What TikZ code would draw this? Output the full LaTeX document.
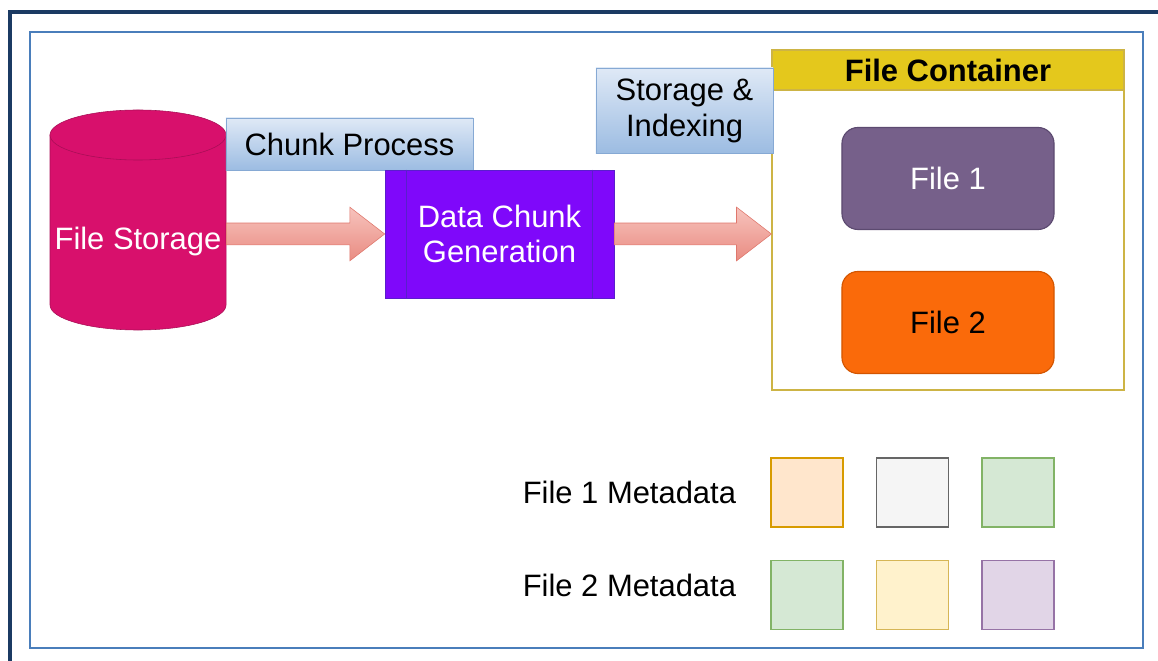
\documentclass[tikz,border=0pt]{standalone}
\usepackage{fontspec}
\setmainfont{Liberation Sans}
\usetikzlibrary{calc}

\definecolor{framedark}{HTML}{1B3A63}
\definecolor{frameblue}{HTML}{4A7EBB}
\definecolor{storagepink}{HTML}{D8106C}
\definecolor{storageedge}{HTML}{A80E56}
\definecolor{labeltop}{HTML}{DFE9F6}
\definecolor{labelbottom}{HTML}{9CBCE2}
\definecolor{labeledge}{HTML}{86A9D4}
\definecolor{processfill}{HTML}{7F08FA}
\definecolor{processedge}{HTML}{5A1ECC}
\definecolor{arrowtop}{HTML}{F7C3BD}
\definecolor{arrowbottom}{HTML}{E98C82}
\definecolor{arrowedge}{HTML}{DF776C}
\definecolor{headeryellow}{HTML}{E4C81C}
\definecolor{containeredge}{HTML}{CDB445}
\definecolor{fileonefill}{HTML}{76608A}
\definecolor{fileoneedge}{HTML}{5C4A70}
\definecolor{filetwofill}{HTML}{FA6A0A}
\definecolor{filetwoedge}{HTML}{D35500}

\begin{document}
\begin{tikzpicture}[x=0.025cm, y=-0.025cm, font=\fontsize{22}{25.5}\selectfont]
		% Define styles
		\tikzstyle{storage}=[fill=storagepink, draw=storageedge, thin]
		\tikzstyle{labelbox}=[draw=labeledge, top color=labeltop, bottom color=labelbottom, inner sep=0pt, align=center]
		\tikzstyle{process}=[draw=processedge, fill=processfill, text=white, align=center, inner sep=0pt, minimum width=5.725cm, minimum height=3.2cm]
		\tikzstyle{processline}=[draw=processedge, thick]
		\tikzstyle{fatarrow}=[draw=arrowedge, top color=arrowtop, bottom color=arrowbottom]
		\tikzstyle{filebox}=[rounded corners=0.4cm, minimum width=5.3cm, minimum height=2.55cm, thick]
		\tikzstyle{meta}=[minimum width=1.8cm, minimum height=1.725cm, line width=1.2pt]
		
		\useasboundingbox (0,0) rectangle (1158,661);
		\clip (0,0) rectangle (1158,661);
		
		% Frames
		\draw[framedark, line width=3pt] (10,12) rectangle (1200,700);
		\draw[frameblue, line width=1.5pt] (30,32) rectangle (1143,648);
		
		% File storage
		\filldraw[storage] (50,135) -- (50,305) arc[start angle=180, end angle=360, x radius=2.2cm, y radius=0.625cm] -- (226,135) -- cycle;
		\filldraw[storage] (138,135) ellipse [x radius=2.2cm, y radius=0.625cm];
		\node[text=white, minimum width=4.4cm, inner sep=0pt] (fs) at (138,242) {File Storage};
		
		% Chunk process
		\node[labelbox, minimum width=6.175cm, minimum height=1.3cm] (cp) at (349.5,144) {Chunk Process};
		\node[process] (dcg) at (499.5,234) {Data Chunk\\Generation};
		\draw[processline] ([xshift=0.55cm]dcg.north west) -- ([xshift=0.55cm]dcg.south west);
		\draw[processline] ([xshift=-0.55cm]dcg.north east) -- ([xshift=-0.55cm]dcg.south east);
		
		% File container
		\node[draw=containeredge, thick, minimum width=8.8cm, minimum height=8.5cm] (fc) at (948,220) {};
		\node[draw=containeredge, thick, fill=headeryellow, minimum width=8.8cm, minimum height=1cm, anchor=north, font=\fontsize{22}{25.5}\selectfont\bfseries] (fch) at (fc.north) {File Container};
		\node[filebox, fill=fileonefill, draw=fileoneedge, text=white] (f1) at (948,178.5) {File 1};
		\node[filebox, fill=filetwofill, draw=filetwoedge] (f2) at (948,322.5) {File 2};
		
		% Storage and indexing
		\node[labelbox, minimum width=4.425cm, minimum height=2.125cm] (si) at (684.5,110.5) {Storage \&\\Indexing};
		
		% Fat arrows
		\draw[fatarrow] let \p1=(fs.east |- dcg.west), \p2=(dcg.west) in
			(\x1,\y1+7.8pt) -- (\x2-24.8pt,\y1+7.8pt) -- (\x2-24.8pt,\y1+19.1pt) -- (\x2,\y1)
			-- (\x2-24.8pt,\y1-19.1pt) -- (\x2-24.8pt,\y1-7.8pt) -- (\x1,\y1-7.8pt) -- cycle;
		\draw[fatarrow] let \p1=(dcg.east), \p2=(fc.west |- dcg.east) in
			(\x1,\y1+7.8pt) -- (\x2-24.8pt,\y1+7.8pt) -- (\x2-24.8pt,\y1+19.1pt) -- (\x2,\y1)
			-- (\x2-24.8pt,\y1-19.1pt) -- (\x2-24.8pt,\y1-7.8pt) -- (\x1,\y1-7.8pt) -- cycle;
		
		% Metadata
		\node[anchor=east] (m1) at (741,492) {File 1 Metadata};
		\node[anchor=east] (m2) at (741,585) {File 2 Metadata};
		\node[meta, fill={rgb,255:red,255;green,230;blue,204}, draw={rgb,255:red,215;green,155;blue,0}] (m1a) at (807,492.5) {};
		\node[meta, fill={rgb,255:red,245;green,245;blue,245}, draw={rgb,255:red,102;green,102;blue,102}] (m1b) at (912.5,492.5) {};
		\node[meta, fill={rgb,255:red,213;green,232;blue,212}, draw={rgb,255:red,130;green,179;blue,102}] (m1c) at (1018,492.5) {};
		\node[meta, fill={rgb,255:red,213;green,232;blue,212}, draw={rgb,255:red,130;green,179;blue,102}] (m2a) at (807,595) {};
		\node[meta, fill={rgb,255:red,255;green,242;blue,204}, draw={rgb,255:red,214;green,182;blue,86}] (m2b) at (912.5,595) {};
		\node[meta, fill={rgb,255:red,225;green,213;blue,231}, draw={rgb,255:red,150;green,115;blue,166}] (m2c) at (1018,595) {};
		
	\end{tikzpicture}
\end{document}
